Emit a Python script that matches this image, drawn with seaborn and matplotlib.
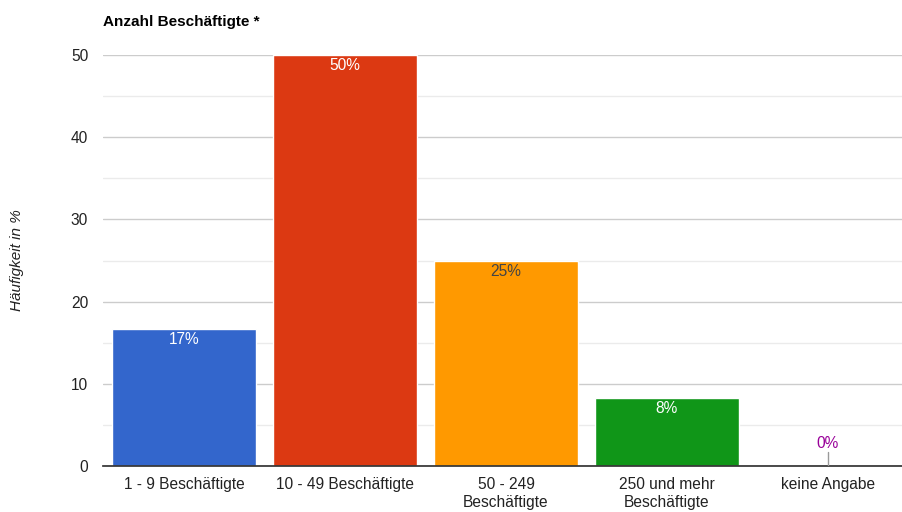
import pandas as pd
import matplotlib.pyplot as plt
import seaborn as sns
from matplotlib.ticker import MultipleLocator

sns.set_theme(style="white")
plt.rcParams['font.family'] = ['Liberation Sans', 'DejaVu Sans']

# Data
categories = ['1 - 9 Beschäftigte', '10 - 49 Beschäftigte', '50 - 249\nBeschäftigte',
              '250 und mehr\nBeschäftigte', 'keine Angabe']
values = [16.7, 50.0, 25.0, 8.3, 0.0]
labels = ['17%', '50%', '25%', '8%', '0%']
colors = ['#3366cc', '#dc3912', '#ff9900', '#109618', '#990099']
label_colors = ['white', 'white', '#444444', 'white', '#990099']

df = pd.DataFrame({'Kategorie': categories, 'Wert': values})

fig = plt.figure(figsize=(9.02, 5.12), dpi=100)
ax = fig.add_axes([0.1147, 0.0898, 0.8925, 0.8028])

sns.barplot(data=df, x='Kategorie', y='Wert', hue='Kategorie', palette=colors,
            legend=False, width=0.895, saturation=1, ax=ax)

ax.set_ylim(0, 50)
ax.set_xlim(-0.5, len(categories) - 0.5)
ax.yaxis.set_major_locator(MultipleLocator(10))
ax.yaxis.set_minor_locator(MultipleLocator(5))
ax.grid(axis='y', which='major', color='#cccccc', linewidth=1)
ax.grid(axis='y', which='minor', color='#ebebeb', linewidth=1)
ax.set_axisbelow(True)
for s in ['top', 'right', 'left']:
    ax.spines[s].set_visible(False)
ax.spines['bottom'].set_color('#333333')
ax.spines['bottom'].set_zorder(5)
ax.tick_params(axis='both', which='both', length=0, colors='#222222', labelsize=11.2)
ax.tick_params(axis='y', pad=11)
ax.tick_params(axis='x', pad=8)

ax.set_xlabel('')
ax.set_ylabel('Häufigkeit in %', fontsize=11, style='italic', color='#222222', labelpad=34)
fig.text(0.1142, 0.957, 'Anzahl Beschäftigte *', fontsize=11, fontweight='bold',
         color='#000000', ha='left', va='center')

# value labels
for i, (p, lab, c) in enumerate(zip(ax.patches, labels, label_colors)):
    x = p.get_x() + p.get_width() / 2
    h = p.get_height()
    if h > 2:
        ax.text(x, h - 1.3, lab, ha='center', va='center', color=c, fontsize=11.2)
    else:
        ax.plot([x, x], [0, 1.7], color='#999999', linewidth=1, zorder=6)
        ax.text(x, 2.7, lab, ha='center', va='center', color=c, fontsize=11.2)

plt.savefig('out.png', dpi=100)
